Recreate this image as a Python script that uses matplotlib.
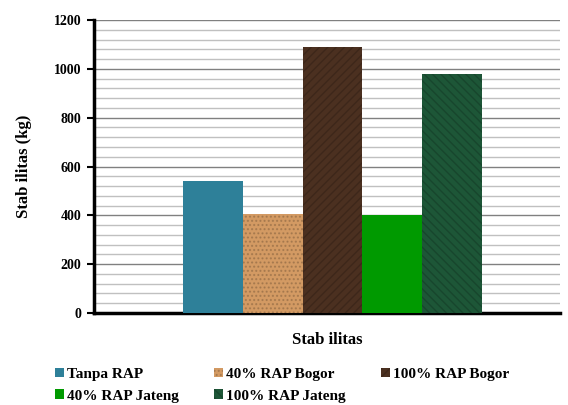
import numpy as np
import matplotlib.pyplot as plt

labels = ["Tanpa RAP", "40% RAP Bogor", "100% RAP Bogor", "40% RAP Jateng", "100% RAP Jateng"]
values = [540, 405, 1088, 400, 978]
colors = ["#2E8099", "#D39A63", "#4B3020", "#009A00", "#1D5637"]
edge_hatch = [None, "....", "////", None, "\\\\\\\\"]

plt.rcParams['font.family'] = ['Liberation Serif', 'DejaVu Serif']
plt.rcParams['font.weight'] = 'bold'

fig = plt.figure(figsize=(5.68, 4.05), dpi=100)
ax = fig.add_axes([94/568, 1 - 313/405, (560-94)/568, (313-20)/405])

x = np.arange(len(values))
handles = []
for i in range(len(values)):
    b = ax.bar(x[i], values[i], width=1.0, color=colors[i], label=labels[i], zorder=3)
    if edge_hatch[i]:
        for p in b:
            p.set_hatch(edge_hatch[i])
            p.set_edgecolor((0, 0, 0, 0.18))
            p.set_linewidth(0)
    handles.append(b)

ax.set_ylim(0, 1200)
ax.set_xlim(-0.5 - 89/60, 4.5 + 78/60)
ax.set_yticks(np.arange(0, 1201, 200))
ax.set_yticks(np.arange(0, 1201, 40), minor=True)
ax.yaxis.grid(True, which='major', color='#808080', linewidth=1.0, zorder=0)
ax.yaxis.grid(True, which='minor', color='#c0c0c0', linewidth=1.0, zorder=0)
ax.tick_params(axis='y', which='major', length=5, width=1.5, labelsize=10, pad=4)
ax.tick_params(axis='y', which='minor', length=0)
ax.set_xticks([])
for s in ['top', 'right']:
    ax.spines[s].set_visible(False)
ax.spines['left'].set_linewidth(2.5)
ax.spines['bottom'].set_linewidth(2.5)
ax.set_axisbelow(True)

ax.set_ylabel("Stab ilitas (kg)", fontsize=12, fontweight='bold', labelpad=16)
ax.set_xlabel("Stab ilitas", fontsize=12, fontweight='bold', labelpad=14)

# row-major legend order like the original
order = [0, 3, 1, 4, 2]
leg = fig.legend([handles[i] for i in order], [labels[i] for i in order],
                 loc='upper left', bbox_to_anchor=(44/568, 1 - 357/405), ncol=3,
                 frameon=False, fontsize=11, handlelength=0.6, handleheight=0.6,
                 handletextpad=0.2, columnspacing=2.3, labelspacing=0.55,
                 borderpad=0.2)

fig.savefig("out.png", dpi=100)
